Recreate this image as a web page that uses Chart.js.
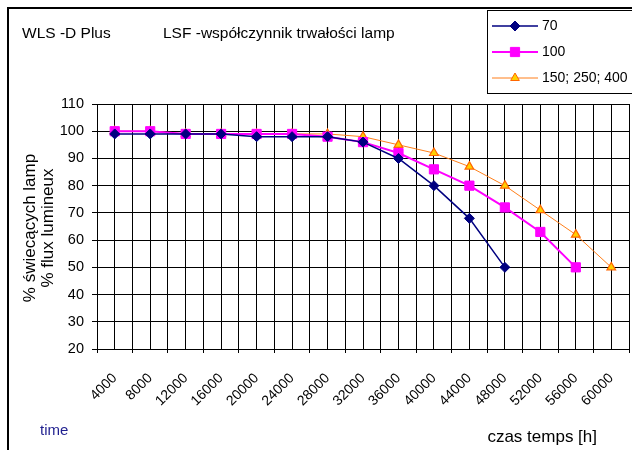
<!DOCTYPE html>
<html><head><meta charset="utf-8">
<script src="https://cdn.jsdelivr.net/npm/chart.js@4/dist/chart.umd.min.js"></script>
<style>html,body{margin:0;padding:0;background:#fff;overflow:hidden}</style>
</head><body>
<canvas id="c" width="632" height="450" style="display:block;width:632px;height:450px"></canvas>
<script>
// ---- data ----
const categories = ['4000','8000','12000','16000','20000','24000','28000','32000','36000','40000','44000','48000','52000','56000','60000'];
const series70  = [99, 99, 99, 99, 98, 98, 98, 96, 90, 80, 68, 50, null, null, null];
const series100 = [100, 100, 99, 99, 99, 99, 98, 96, 92, 86, 80, 72, 63, 50, null];
const series150 = [100, 100, 99, 99, 99, 99, 99, 98, 95, 92, 87, 80, 71, 62, 50];
const seriesNames = ['70', '100', '150; 250; 400'];
const yMin = 20, yMax = 110, yStep = 10;
const titleLeft = 'WLS -D Plus';
const titleMain = 'LSF -współczynnik trwałości lamp';
const yTitleLines = ['% świecących lamp', '% flux lumineux'];
const xTitle = 'czas temps [h]';
const noteText = 'time';

const FONT = 'Liberation Sans, Arial, sans-serif';

function drawMarker(ctx, style, x, y, r, fill, stroke) {
  ctx.save();
  ctx.fillStyle = fill; ctx.strokeStyle = stroke; ctx.lineWidth = 1;
  ctx.beginPath();
  if (style === 'rectRot') {
    ctx.moveTo(x, y - r); ctx.lineTo(x + r, y); ctx.lineTo(x, y + r); ctx.lineTo(x - r, y); ctx.closePath();
  } else if (style === 'rect') {
    const s = r * Math.SQRT1_2; ctx.rect(x - s, y - s, 2 * s, 2 * s);
  } else {
    ctx.moveTo(x, y - r); ctx.lineTo(x + r * 0.87, y + r * 0.5); ctx.lineTo(x - r * 0.87, y + r * 0.5); ctx.closePath();
  }
  ctx.fill(); ctx.stroke();
  ctx.restore();
}

const decorPlugin = {
  id: 'decor',
  beforeDraw(chart) {
    const ctx = chart.ctx;
    ctx.save();
    ctx.fillStyle = '#fff';
    ctx.fillRect(0, 0, chart.width, chart.height);
    ctx.strokeStyle = '#000'; ctx.lineWidth = 2;
    ctx.strokeRect(8, 8, 700, 500);
    ctx.restore();
  },
  afterDraw(chart) {
    const ctx = chart.ctx;
    ctx.save();
    ctx.fillStyle = '#000';
    ctx.textBaseline = 'middle';
    ctx.font = '15.5px ' + FONT;
    ctx.textAlign = 'left';
    ctx.fillText(titleLeft, 22, 34);
    ctx.fillText(titleMain, 163, 34);

    // y title
    ctx.save();
    ctx.translate(39, 228);
    ctx.rotate(-Math.PI / 2);
    ctx.textAlign = 'center'; ctx.textBaseline = 'middle';
    ctx.font = '17px ' + FONT;
    ctx.fillText(yTitleLines[0], 0, -9);
    ctx.fillText(yTitleLines[1], 0, 9);
    ctx.restore();

    // x title
    ctx.font = '17px ' + FONT;
    ctx.textAlign = 'right'; ctx.textBaseline = 'middle';
    ctx.fillText(xTitle, 597, 437);

    ctx.fillStyle = '#1f1f8f';
    ctx.font = '15px ' + FONT;
    ctx.textAlign = 'left';
    ctx.fillText(noteText, 40, 431);

    // legend
    ctx.fillStyle = '#fff';
    ctx.strokeStyle = '#000'; ctx.lineWidth = 1;
    ctx.fillRect(487.5, 10.5, 200, 83);
    ctx.strokeRect(487.5, 10.5, 200, 83);
    const ys = [26, 52, 78];
    chart.data.datasets.forEach((ds, i) => {
      const y = ys[i];
      ctx.strokeStyle = ds.borderColor; ctx.lineWidth = ds.borderWidth;
      ctx.beginPath(); ctx.moveTo(492, y); ctx.lineTo(538, y); ctx.stroke();
      drawMarker(ctx, ds.pointStyle, 515, y, ds.pointRadius, ds.pointBackgroundColor, ds.pointBorderColor);
      ctx.fillStyle = '#000'; ctx.font = '14px ' + FONT;
      ctx.textAlign = 'left'; ctx.textBaseline = 'middle';
      ctx.fillText(ds.label, 542, y);
    });
    ctx.restore();
  }
};

new Chart(document.getElementById('c'), {
  type: 'line',
  data: {
    labels: categories,
    datasets: [
      { label: seriesNames[0], data: series70, borderColor: '#000080', backgroundColor: '#000080',
        pointBackgroundColor: '#000080', pointBorderColor: '#000080', borderWidth: 1.5,
        pointStyle: 'rectRot', pointRadius: 5, pointBorderWidth: 1, tension: 0, spanGaps: false },
      { label: seriesNames[1], data: series100, borderColor: '#ff00ff', backgroundColor: '#ff00ff',
        pointBackgroundColor: '#ff00ff', pointBorderColor: '#ff00ff', borderWidth: 2,
        pointStyle: 'rect', pointRadius: 6.5, pointBorderWidth: 1, tension: 0, spanGaps: false },
      { label: seriesNames[2], data: series150, borderColor: '#ff7f1a', backgroundColor: '#ffcc00',
        pointBackgroundColor: '#ffd000', pointBorderColor: '#ff6600', borderWidth: 1,
        pointStyle: 'triangle', pointRadius: 5, pointBorderWidth: 1.2, tension: 0, spanGaps: false }
    ]
  },
  options: {
    responsive: false,
    animation: false,
    devicePixelRatio: 1,
    layout: { autoPadding: false, padding: { top: 104, right: 3, left: 0, bottom: 0 } },
    plugins: { legend: { display: false }, title: { display: false }, tooltip: { enabled: false } },
    scales: {
      x: {
        type: 'category', offset: true, position: 'bottom',
        grid: { offset: true, color: '#000', lineWidth: 1, tickLength: 4, drawTicks: true },
        border: { color: '#000', width: 1 },
        ticks: { autoSkip: false, maxRotation: 45, minRotation: 45, color: '#000',
                 font: { size: 14, family: FONT }, padding: 17 },
        afterFit(s) { s.height = 101; s.paddingLeft = 0; s.paddingRight = 0; }
      },
      x2: {
        type: 'category', labels: categories, offset: true, position: 'bottom',
        grid: { offset: false, color: '#000', lineWidth: 1, drawTicks: false },
        border: { display: false },
        ticks: { display: false },
        afterFit(s) { s.height = 0; s.paddingLeft = 0; s.paddingRight = 0; }
      },
      y: {
        min: yMin, max: yMax,
        ticks: { stepSize: yStep, color: '#000', font: { size: 14.5, family: FONT }, padding: 8 },
        grid: { color: '#000', lineWidth: 1, tickLength: 5 },
        border: { color: '#000', width: 1 },
        afterFit(s) { s.width = 97; }
      }
    }
  },
  plugins: [decorPlugin]
});
</script>
</body></html>
